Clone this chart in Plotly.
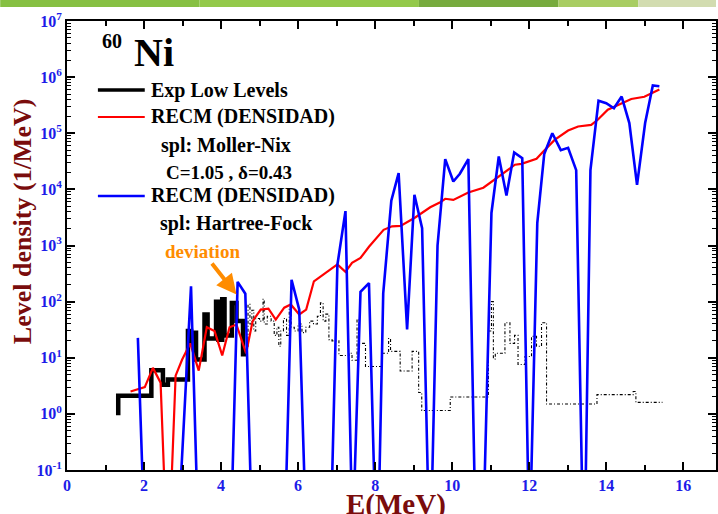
import plotly.graph_objects as go

# ---------------- data ----------------
# Exp low levels (thick black staircase)
exp_E = [1.33, 1.33, 2.19, 2.49, 2.62, 3.14, 3.22, 3.30, 3.35, 3.57, 3.65, 3.87, 3.93, 4.03, 4.09, 4.28, 4.40, 4.57, 4.66]
exp_rho = [0.95, 2.1, 6.0, 3.3, 4.1, 30, 18, 28, 9.3, 59, 22, 100, 21, 110, 25, 95, 45, 11.5, 11.5]

# higher experimental levels (thin dash-dot staircase)
hi_E = [4.66, 4.70, 4.75, 4.80, 4.85, 4.90, 5.00, 5.09, 5.12, 5.20, 5.30, 5.38, 5.45, 5.50, 5.55,
        5.62, 5.70, 5.77, 5.82, 5.90, 6.00, 6.10, 6.20, 6.30, 6.40, 6.50, 6.58, 6.65, 6.72, 6.80,
        6.88, 7.06, 7.32, 7.40, 7.53, 7.58, 7.75, 8.18, 8.35, 8.40, 8.45, 8.65, 8.96, 9.13, 9.21,
        9.95, 10.94, 11.02, 11.07, 11.12, 11.37, 11.50, 11.62, 11.71, 11.89, 12.06, 12.19, 12.32,
        12.45, 12.49, 13.76, 14.70, 14.77, 15.46]
hi_rho = [16, 90, 40, 70, 30, 50, 45, 110, 40, 55, 45, 25, 35, 16, 30,
          50, 25, 80, 35, 30, 40, 28, 35, 45, 40, 55, 95, 45, 60, 21,
          20, 11, 12, 9, 48, 18, 7, 12, 22, 13, 13, 5.8, 13, 2.4, 1.15,
          2.0, 30, 100, 9.5, 12, 42, 18, 25, 7.6, 10.5, 24, 16, 42,
          1.5, 1.5, 2.2, 2.5, 1.6, 1.6]

# RECM, spl: Moller-Nix (red)
mn_E = [1.65, 2.02, 2.23, 2.43, 2.62, 2.82, 2.99, 3.20, 3.42, 3.63, 3.83, 4.03, 4.22, 4.40, 4.65,
        4.82, 5.03, 5.23, 5.42, 5.64, 5.81, 6.03, 6.21, 6.41, 7.02, 7.23, 7.40, 7.62, 7.84, 8.22,
        8.44, 8.66, 9.04, 9.43, 9.69, 9.82, 10.03, 10.42, 10.81, 11.11, 11.63, 11.80, 12.19, 12.36,
        12.66, 13.01, 13.27, 13.61, 13.78, 14.04, 14.39, 14.65, 14.99, 15.16, 15.38]
mn_rho = [2.5, 3.0, 6.6, 3.6, 0.0013, 4.8, 9.3, 18, 5.9, 35, 30, 11, 35, 39, 12,
          45, 72, 75, 48, 78, 89, 59, 72, 230, 460, 340, 490, 600, 950, 1900,
          2200, 2240, 3150, 4800, 5900, 6800, 6500, 8800, 10700, 15000, 27500, 28500, 35000, 47000,
          76000, 112000, 132000, 141000, 174000, 263000, 343000, 407000, 447000, 513000, 600000]

# RECM, spl: Hartree-Fock (blue)
hf_E = [1.84, 1.98, 2.93, 3.22, 3.38, 4.28, 4.43, 4.63, 4.78, 5.68, 5.83, 6.03, 6.18, 6.87, 7.02,
        7.23, 7.39, 7.45, 7.62, 7.84, 7.99, 8.10, 8.21, 8.42, 8.61, 8.83, 9.02, 9.22, 9.38, 9.47,
        9.62, 9.82, 10.03, 10.20, 10.42, 10.59, 10.83, 11.02, 11.21, 11.41, 11.61, 11.82, 11.98,
        12.04, 12.21, 12.39, 12.60, 12.82, 13.01, 13.22, 13.38, 13.46, 13.59, 13.80, 14.00, 14.20,
        14.40, 14.60, 14.80, 15.01, 15.21, 15.38]
hf_rho = [22.6, 0.03, 0.03, 188, 0.03, 0.03, 225, 138, 0.03, 0.03, 245, 72, 0.03, 0.03, 450,
          4100, 0.03, 0.03, 150, 214, 0.03, 0.03, 140, 6300, 19500, 32, 8000, 2040, 0.03, 0.03,
          1000, 34600, 13800, 19000, 34600, 0.03, 0.03, 3800, 38500, 7800, 45500, 36000, 0.03,
          0.03, 2500, 42500, 100000, 50000, 55000, 22000, 0.03, 0.03, 22000, 380000, 343000, 279000,
          450000, 152000, 12000, 152000, 710000, 690000]

x_ticks = [0, 2, 4, 6, 8, 10, 12, 14, 16]
y_exps = [-1, 0, 1, 2, 3, 4, 5, 6, 7]
y_tick_text = ["10<sup>%d</sup>" % e for e in y_exps]

# ---------------- styling ----------------
SERIF = "Liberation Serif, Times New Roman, serif"
TICKBLUE = "#1c1ce8"
TITLERED = "#7a0c0c"
ORANGE = "#ff8c00"

W, H = 718, 514
L, R, T, B = 67, 0, 21, 44
PW, PH = W - L - R, H - T - B


def px(xp):
    return (xp - L) / PW


def py(yp):
    return (H - B - yp) / PH


fig = go.Figure()
fig.add_trace(go.Scatter(x=hi_E, y=hi_rho, mode="lines", line_shape="hv",
                         line=dict(color="black", width=1.1, dash="3px,2px,1px,2px"),
                         showlegend=False))
fig.add_trace(go.Scatter(x=exp_E, y=exp_rho, mode="lines", line_shape="hv",
                         line=dict(color="black", width=4.5), showlegend=False))
fig.add_trace(go.Scatter(x=mn_E, y=mn_rho, mode="lines",
                         line=dict(color="#ff0000", width=2.2), showlegend=False))
fig.add_trace(go.Scatter(x=hf_E, y=hf_rho, mode="lines",
                         line=dict(color="#0000ff", width=2.6), showlegend=False))

minor_y = [k * 10.0 ** e for e in range(-1, 7) for k in range(2, 10)]

fig.update_layout(
    width=W, height=H,
    margin=dict(l=L, r=R, t=T, b=B, pad=0),
    paper_bgcolor="white", plot_bgcolor="white",
    showlegend=False,
    xaxis=dict(range=[0, 16.85], showgrid=False, zeroline=False,
               showline=True, linecolor="black", linewidth=2, mirror="ticks",
               ticks="inside", ticklen=8, tickwidth=2, tickcolor="black",
               tickmode="array", tickvals=x_ticks,
               minor=dict(ticks="inside", ticklen=5, tickwidth=1.5, tickcolor="black", dtick=1, tick0=0),
               tickfont=dict(family=SERIF, size=16, color=TICKBLUE, weight="bold")),
    yaxis=dict(type="log", range=[-1, 7], showgrid=False, zeroline=False,
               showline=True, linecolor="black", linewidth=2, mirror="ticks",
               ticks="inside", ticklen=8, tickwidth=2, tickcolor="black",
               tickmode="array", tickvals=[10.0 ** e for e in y_exps], ticktext=y_tick_text,
               minor=dict(ticks="inside", ticklen=4, tickwidth=1, tickcolor="black",
                          tickmode="array", tickvals=minor_y),
               tickfont=dict(family=SERIF, size=16, color=TICKBLUE, weight="bold")),
)

shapes = []
# top green banner
banner = [(0, 200, "#86c043"), (200, 420, "#93c94a"), (420, 560, "#77ab3e"),
          (560, 640, "#a8cd62"), (640, 718, "#d2dcb0")]
for x0, x1, c in banner:
    shapes.append(dict(type="rect", xref="paper", yref="paper", x0=px(x0), x1=px(x1),
                       y0=py(7), y1=py(0), fillcolor=c, line=dict(width=0), layer="above"))
# legend line samples
for yy, col, wd in [(90, "black", 3.5), (117, "#ff0000", 2.2), (196, "#0000ff", 2.6)]:
    shapes.append(dict(type="line", xref="paper", yref="paper", x0=px(98), x1=px(145),
                       y0=py(yy), y1=py(yy), line=dict(color=col, width=wd)))
fig.update_layout(shapes=shapes)

ann = []
def txt(s, xp, yp, size, color="black", xanchor="center"):
    ann.append(dict(text=s, xref="paper", yref="paper", x=px(xp), y=py(yp),
                    xanchor=xanchor, yanchor="middle", showarrow=False,
                    font=dict(family=SERIF, size=size, color=color)))

txt("<b>60</b>", 112, 41, 20)
txt("<b>Ni</b>", 154, 53, 40)
txt("<b>Exp Low Levels</b>", 149, 90, 20, xanchor="left")
txt("<b>RECM (DENSIDAD)</b>", 149, 117, 20, xanchor="left")
txt("<b>spl: Moller-Nix</b>", 226, 145, 20)
txt("<b>C=1.05 , δ=0.43</b>", 230, 172, 19)
txt("<b>RECM (DENSIDAD)</b>", 149, 196, 20, xanchor="left")
txt("<b>spl: Hartree-Fock</b>", 237, 223, 20)
# axis titles
ann.append(dict(text="<b>E(MeV)</b>", xref="paper", yref="paper", x=px(397), y=py(504),
                xanchor="center", yanchor="middle", showarrow=False,
                font=dict(family=SERIF, size=29, color=TITLERED)))
ann.append(dict(text="<b>Level density (1/MeV)</b>", xref="paper", yref="paper", x=px(22), y=py(221),
                xanchor="center", yanchor="middle", showarrow=False, textangle=-90,
                font=dict(family=SERIF, size=26, color=TITLERED)))
# deviation arrow
ann.append(dict(text="<b>deviation</b>", xref="x", yref="y", x=4.40, y=2.125,
                ax=-34, ay=-43, showarrow=True, arrowhead=2, arrowsize=1, arrowwidth=4,
                arrowcolor=ORANGE, font=dict(family=SERIF, size=19, color=ORANGE)))
fig.update_layout(annotations=ann)

fig.write_html("out.html", config={"displayModeBar": False},
               post_script="document.body.style.margin='0';document.body.style.overflow='hidden';")
